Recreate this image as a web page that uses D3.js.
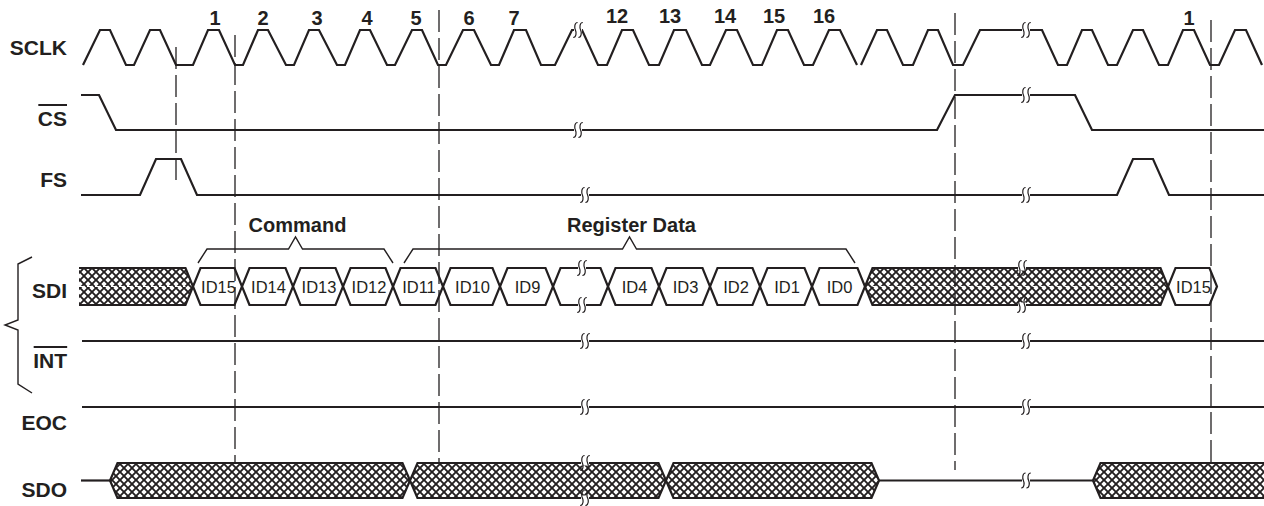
<!DOCTYPE html>
<html><head><meta charset="utf-8">
<script src="https://cdn.jsdelivr.net/npm/d3@7/dist/d3.min.js"></script>
<style>html,body{margin:0;padding:0;background:#fff}svg{display:block}</style>
</head><body>
<svg id="chart" width="1264" height="506"></svg>
<script>
// ---------------- DATA (time in diagram units, level 0/1) ----------------
const signalNames = ["SCLK", "CS", "FS", "SDI", "INT", "EOC", "SDO"];
const activeLow = ["CS", "INT"];

const sclkWave = [
  [83,0],[100,1],[110,1],[126,0],[134,0],[150,1],[160,1],[176,0],[193,0],[208,1],[219,1],[235,0],
  [243,0],[258,1],[268,1],[286,0],[294,0],[309,1],[319,1],[337,0],[345,0],[360,1],[370,1],[387,0],
  [395,0],[412,1],[422,1],[438,0],[446,0],[463,1],[474,1],[491,0],[499,0],[514,1],[526,1],[541,0],
  [555,0],[572,1],[582,1],[598,0],[607,0],[622,1],[633,1],[649,0],[659,0],[674,1],[686,1],[702,0],
  [710,0],[726,1],[737,1],[753,0],[762,0],[777,1],[788,1],[804,0],[813,0],[829,1],[840,1],[857,0],
  null,
  [861,0],[877,1],[887,1],[903,0],[913,0],[928,1],[938,1],[953,0],[963,0],[980,1],[1042,1],[1058,0],
  [1067,0],[1082,1],[1092,1],[1108,0],[1117,0],[1133,1],[1143,1],[1159,0],[1168,0],[1183,1],[1194,1],
  [1210,0],[1219,0],[1235,1],[1246,1],[1262,0]
];
const csWave  = [[81,1],[99,1],[116,0],[937,0],[955,1],[1075,1],[1092,0],[1264,0]];
const fsWave  = [[81,0],[140,0],[156,1],[181,1],[197,0],[1117,0],[1133,1],[1153,1],[1169,0],[1264,0]];
const intWave = [[82,1],[1264,1]];
const eocWave = [[82,1],[1264,1]];

const sdiCells = [
  {from:79,  to:193,  value:"X"},
  {from:193, to:242,  value:"ID15"},
  {from:242, to:293,  value:"ID14"},
  {from:293, to:343,  value:"ID13"},
  {from:343, to:393,  value:"ID12"},
  {from:393, to:443,  value:"ID11"},
  {from:443, to:500,  value:"ID10"},
  {from:500, to:553,  value:"ID9"},
  {from:553, to:608,  value:""},
  {from:608, to:659,  value:"ID4"},
  {from:659, to:710,  value:"ID3"},
  {from:710, to:760,  value:"ID2"},
  {from:760, to:812,  value:"ID1"},
  {from:812, to:865,  value:"ID0"},
  {from:865, to:1168, value:"X"},
  {from:1168,to:1217, value:"ID15"}
];
const sdoCells = [
  {from:81,  to:110,  value:"Z"},
  {from:110, to:410,  value:"X"},
  {from:410, to:666,  value:"X"},
  {from:666, to:879,  value:"X"},
  {from:879, to:1093, value:"Z"},
  {from:1093,to:1280, value:"X"}
];

const clockNumbers = [
  {label:"1", t:215}, {label:"2", t:263}, {label:"3", t:317}, {label:"4", t:367}, {label:"5", t:416},
  {label:"6", t:469}, {label:"7", t:514}, {label:"12", t:617}, {label:"13", t:670}, {label:"14", t:725},
  {label:"15", t:774}, {label:"16", t:824}, {label:"1", t:1189}
];
const breakTimes = {
  SCLK:[578,1026], CS:[578,1026], FS:[585,1026], SDI:[582,1022],
  INT:[585,1026], EOC:[585,1026], SDO:[585,1026]
};
const markerTimes = [176, 235, 439, 955, 1211];
const groups = [
  {label:"Command",       from:198, to:393},
  {label:"Register Data", from:404, to:855}
];

// ---------------- LAYOUT / STYLE ----------------
const W = 1264, H = 506;
const ink = "#231f20";
const rows = {
  SCLK:{hi:30,  lo:65,  base:55},
  CS:  {hi:95,  lo:130, base:126, bar:105},
  FS:  {hi:159, lo:195, base:187},
  SDI: {hi:268, lo:305, base:298},
  INT: {hi:341, lo:341, base:368, bar:347},
  EOC: {hi:407, lo:407, base:430},
  SDO: {hi:463, lo:498, base:497}
};
const markerSpan = [[47,180],[35,463],[10,463],[13,470],[20,463]];
const numberBase = {"12":23,"13":23,"14":23,"15":23,"16":23};
const slant = 7.5;

const svg = d3.select("#chart");
const x = d3.scaleLinear().domain([0, W]).range([0, W]);
const yOf = name => d3.scaleLinear().domain([0, 1]).range([rows[name].lo, rows[name].hi]);

// hatch pattern
const defs = svg.append("defs");
const pat = defs.append("pattern").attr("id","hatch").attr("patternUnits","userSpaceOnUse")
  .attr("width",8).attr("height",8).attr("x",0).attr("y",0);
pat.append("rect").attr("width",8).attr("height",8).attr("fill","#fff");
pat.append("path").attr("d","M-1,-1L9,9M9,-1L-1,9").attr("stroke",ink).attr("stroke-width",1.9);

// ---------------- LABELS ----------------
const labelG = svg.append("g").attr("font-family","'Liberation Sans', Arial, sans-serif")
  .attr("font-weight","bold").attr("font-size",21).attr("fill",ink);
signalNames.forEach(n => {
  const t = labelG.append("text").attr("x",67).attr("y",rows[n].base).attr("text-anchor","end").text(n);
  if (activeLow.includes(n)) {
    const bb = t.node().getBBox();
    svg.append("line").attr("x1",bb.x+0.5).attr("x2",bb.x+bb.width).attr("y1",rows[n].bar).attr("y2",rows[n].bar)
      .attr("stroke",ink).attr("stroke-width",2);
  }
});

// clock numbers
svg.append("g").selectAll("text").data(clockNumbers).join("text")
  .attr("x", d => x(d.t)).attr("y", d => numberBase[d.label] || 25)
  .attr("text-anchor","middle").attr("font-family","'Liberation Sans', Arial, sans-serif")
  .attr("font-weight","bold").attr("font-size",20).attr("fill",ink).text(d => d.label);

// ---------------- WAVEFORMS ----------------
function drawWave(name, wave) {
  const y = yOf(name);
  const line = d3.line().defined(d => d !== null).x(d => x(d[0])).y(d => y(d[1]));
  svg.append("path").attr("d", line(wave)).attr("fill","none").attr("stroke",ink)
    .attr("stroke-width",2.2).attr("stroke-linejoin","miter");
}
drawWave("SCLK", sclkWave);
drawWave("CS", csWave);
drawWave("FS", fsWave);
drawWave("INT", intWave);
drawWave("EOC", eocWave);

// ---------------- BUSES ----------------
function drawBus(name, cells, midDash) {
  const top = rows[name].hi, bot = rows[name].lo, mid = (top + bot) / 2;
  const g = svg.append("g");
  cells.forEach((c, i) => {
    const a = x(c.from), b = x(c.to);
    const flatLeft = i === 0, openRight = c.to >= W;
    if (c.value === "Z") {
      g.append("line").attr("x1",a).attr("x2",b).attr("y1",mid).attr("y2",mid)
        .attr("stroke",ink).attr("stroke-width",2.2);
      return;
    }
    const pts = [];
    if (flatLeft) { pts.push([a,bot],[a,top]); } else { pts.push([a+slant,bot],[a,mid],[a+slant,top]); }
    if (openRight) { pts.push([b,top],[b,bot]); } else { pts.push([b-slant,top],[b,mid],[b-slant,bot]); }
    if (c.value === "X") {
      g.append("path").attr("d","M"+pts.join("L")+"Z").attr("fill","url(#hatch)").attr("stroke","none");
      if (midDash) {
        g.append("line").attr("x1",a+(flatLeft?0:slant)).attr("x2",b-slant).attr("y1",mid).attr("y2",mid)
          .attr("stroke","#fff").attr("stroke-width",1).attr("stroke-dasharray","5,3");
      }
    }
    let d = "M" + pts.join("L") + "Z";
    if (flatLeft) d = "M" + [[a,top],[b-slant,top],[b,mid],[b-slant,bot],[a,bot]].join("L");
    if (openRight) d = "M" + [[b,top],[a+slant,top],[a,mid],[a+slant,bot],[b,bot]].join("L");
    g.append("path").attr("d",d).attr("fill","none").attr("stroke",ink).attr("stroke-width",2.2)
      .attr("stroke-linejoin","miter");
    if (c.value && c.value !== "X") {
      g.append("text").attr("x",(a+b)/2+1).attr("y",mid+6).attr("text-anchor","middle")
        .attr("font-family","'Liberation Sans', Arial, sans-serif").attr("font-size",16.5)
        .attr("fill",ink).text(c.value);
    }
  });
}
drawBus("SDI", sdiCells, true);
drawBus("SDO", sdoCells, false);

// ---------------- BREAK MARKS ----------------
function levelAt(wave, t) {
  const pts = wave.filter(p => p !== null);
  for (let i = 0; i < pts.length - 1; i++) {
    if (t >= pts[i][0] && t <= pts[i+1][0]) {
      const f = (t - pts[i][0]) / (pts[i+1][0] - pts[i][0] || 1);
      return pts[i][1] + f * (pts[i+1][1] - pts[i][1]);
    }
  }
  return pts[pts.length-1][1];
}
function breakMark(cx, cy) {
  svg.append("rect").attr("x",cx-4).attr("y",cy-2.5).attr("width",8).attr("height",5).attr("fill","#fff");
  [-2.6, 2.6].forEach(o => {
    const px = cx + o;
    svg.append("path")
      .attr("d",`M${px+2.2},${cy-7.5} C${px-1.2},${cy-7.5} ${px-1},${cy-2} ${px},${cy} S${px+1.2},${cy+7.5} ${px-2.2},${cy+7.5}`)
      .attr("fill","none").attr("stroke",ink).attr("stroke-width",1.2);
  });
}
const waves = {SCLK:sclkWave, CS:csWave, FS:fsWave, INT:intWave, EOC:eocWave};
Object.keys(waves).forEach(n => {
  const y = yOf(n);
  breakTimes[n].forEach(t => breakMark(x(t), y(levelAt(waves[n], t))));
});
["SDI","SDO"].forEach(n => {
  const cells = n === "SDI" ? sdiCells : sdoCells;
  breakTimes[n].forEach(t => {
    const c = cells.find(c => t >= c.from && t <= c.to);
    if (c && c.value === "Z") breakMark(x(t), (rows[n].hi + rows[n].lo) / 2);
    else { breakMark(x(t), rows[n].hi); breakMark(x(t), rows[n].lo); }
  });
});

// ---------------- GROUP BRACES ----------------
groups.forEach(gp => {
  const a = x(gp.from), b = x(gp.to), c = (a + b) / 2;
  const yb = 263, yh = 249, yp = 237;
  svg.append("path")
    .attr("d",`M${a},${yb}L${a+9},${yh}L${c-7},${yh}L${c},${yp}L${c+7},${yh}L${b-9},${yh}L${b},${yb}`)
    .attr("fill","none").attr("stroke",ink).attr("stroke-width",1.4);
  svg.append("text").attr("x",c+2).attr("y",232).attr("text-anchor","middle")
    .attr("font-family","'Liberation Sans', Arial, sans-serif").attr("font-weight","bold")
    .attr("font-size",20).attr("fill",ink).text(gp.label);
});
// big left brace grouping SDI and INT
svg.append("path").attr("d","M32,257L18,264L18,320L5,325L18,330L18,384L32,393")
  .attr("fill","none").attr("stroke",ink).attr("stroke-width",1.4);

// ---------------- DASHED REFERENCE LINES ----------------
svg.append("g").selectAll("line").data(markerTimes).join("line")
  .attr("x1", d => x(d)).attr("x2", d => x(d))
  .attr("y1", (d,i) => markerSpan[i][0]).attr("y2", (d,i) => markerSpan[i][1])
  .attr("stroke", ink).attr("stroke-width", 1.3).attr("stroke-dasharray","22,6");
</script>
</body></html>
